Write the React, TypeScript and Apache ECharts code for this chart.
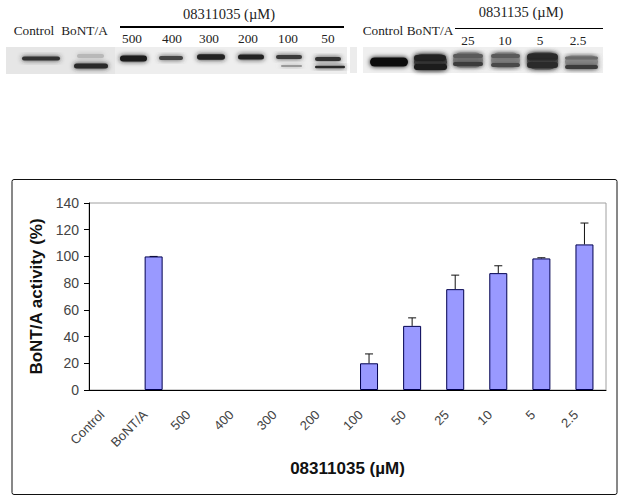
import React, { useEffect, useRef } from "react";
import * as echarts from "echarts";

const categories = ["Control", "BoNT/A", "500", "400", "300", "200", "100", "50", "25", "10", "5", "2.5"];
const activity = [0, 100, 0, 0, 0, 0, 20, 48, 75.5, 87.5, 98.5, 109];
const upperError = [null, 100, null, null, null, null, 27, 54, 86, 93, 99, 125];
const yTicks = { min: 0, max: 140, step: 20 };
const yTitle = "BoNT/A activity (%)";
const xTitle = "08311035 (µM)";

// Decorative blot photograph, layout only: [left, right, centreY, thickness, colour]
const leftBlotBands: [number, number, number, number, string][] = [
  [22, 60, 58.5, 4, "#333"],
  [77, 104, 56, 4, "#b8b8b8"],
  [74, 108, 66, 5, "#2a2a2a"],
  [120, 147, 58.5, 6, "#1a1a1a"],
  [159, 183, 58, 4, "#444"],
  [197, 225, 57, 5.5, "#222"],
  [238, 264, 57, 5, "#222"],
  [276, 302, 57, 4, "#3a3a3a"],
  [281, 302, 66, 2, "#999"],
  [315, 341, 59, 4, "#333"],
  [315, 345, 67, 2.5, "#2a2a2a"],
];
const rightBlotSmears: [number, number, number, number, string][] = [
  [414, 447, 62, 16, "#444"],
  [453, 483, 60, 15, "#808080"],
  [491, 520, 60, 15, "#8c8c8c"],
  [527, 558, 61, 17, "#555"],
  [565, 598, 62, 13, "#909090"],
];
const rightBlotBands: [number, number, number, number, string][] = [
  [370, 408, 62, 9, "#111"],
  [414, 446, 58, 6, "#222"],
  [414, 447, 67, 6, "#1a1a1a"],
  [453, 483, 56, 4, "#5a5a5a"],
  [453, 483, 64, 4, "#3a3a3a"],
  [491, 520, 56, 4, "#5a5a5a"],
  [491, 520, 65, 4, "#4a4a4a"],
  [527, 558, 57, 7, "#2a2a2a"],
  [527, 558, 65, 6, "#2a2a2a"],
  [565, 598, 58, 3, "#6a6a6a"],
  [565, 598, 67, 4, "#3a3a3a"],
];
// Western blot captions: [text, x, y, font size]
const blotLabels: [string, number, number, number][] = [
  ["Control", 34, 30.5, 13.3],
  ["BoNT/A", 84.5, 30.5, 13.3],
  ["08311035 (µM)", 229, 14, 14.5],
  ["500", 132, 38.5, 13.3],
  ["400", 172, 38.5, 13.3],
  ["300", 209, 38.5, 13.3],
  ["200", 248, 38.5, 13.3],
  ["100", 288, 38.5, 13.3],
  ["50", 328, 38.5, 13.3],
  ["Control", 383, 30, 13.3],
  ["BoNT/A", 430, 30, 13.3],
  ["0831135 (µM)", 521, 12, 14.5],
  ["25", 468, 40, 13.3],
  ["10", 505, 40, 13.3],
  ["5", 540, 40, 13.3],
  ["2.5", 578, 40, 13.3],
];

const bandShape = (b: [number, number, number, number, string]) => ({
  type: "rect",
  silent: true,
  shape: { x: b[0], y: b[2] - b[3] / 2, width: b[1] - b[0], height: b[3], r: b[3] / 2 },
  style: { fill: b[4], shadowBlur: 5, shadowColor: b[4] },
});

export default function App() {
  const ref = useRef<HTMLDivElement>(null);
  useEffect(() => {
    document.body.style.margin = "0";
    const chart = echarts.init(ref.current!, null, { renderer: "svg" });
    chart.setOption({
      animation: false,
      backgroundColor: "#fff",
      textStyle: { fontFamily: "Liberation Sans" },
      grid: { left: 89, right: 18, top: 203, bottom: 112, show: true, borderColor: "#a0a0a0", borderWidth: 1 },
      xAxis: {
        type: "category",
        data: categories,
        name: xTitle,
        nameLocation: "middle",
        nameGap: 70,
        nameTextStyle: { fontFamily: "Liberation Sans", fontSize: 17, fontWeight: "bold", color: "#111" },
        axisLine: { lineStyle: { color: "#000", width: 1 } },
        axisTick: { alignWithLabel: false, length: 5, lineStyle: { color: "#000" } },
        axisLabel: { interval: 0, rotate: 45, margin: 14, padding: [0, 12, 0, 0], fontSize: 13, color: "#444", fontFamily: "Liberation Sans" },
        splitLine: { show: false },
      },
      yAxis: {
        type: "value",
        min: yTicks.min,
        max: yTicks.max,
        interval: yTicks.step,
        name: yTitle,
        nameLocation: "middle",
        nameGap: 43,
        nameTextStyle: { fontFamily: "Liberation Sans", fontSize: 17, fontWeight: "bold", color: "#111" },
        axisLine: { show: true, lineStyle: { color: "#000", width: 1 } },
        axisTick: { show: true, length: 5, lineStyle: { color: "#000" } },
        axisLabel: { fontSize: 14, color: "#444", margin: 10, fontFamily: "Liberation Sans" },
        splitLine: { show: false },
      },
      series: [
        {
          type: "bar",
          data: activity.map((v) => (v === 0 ? null : v)),
          barWidth: 18,
          itemStyle: { color: "#9999ff", borderColor: "#000050", borderWidth: 1 },
        },
        {
          type: "custom",
          data: upperError.map((v, i) => [i, activity[i], v]),
          encode: { x: 0, y: 2 },
          z: 1,
          renderItem: (_p: any, api: any) => {
            const top = api.value(2);
            if (top === null || top === undefined || Number.isNaN(top)) return null;
            const a = api.coord([api.value(0), api.value(1)]);
            const b = api.coord([api.value(0), top]);
            const style = { stroke: "#111", lineWidth: 1, fill: "none" };
            return {
              type: "group",
              children: [
                { type: "line", shape: { x1: a[0], y1: a[1], x2: a[0], y2: b[1] }, style },
                { type: "line", shape: { x1: a[0] - 4, y1: b[1], x2: a[0] + 4, y2: b[1] }, style },
              ],
            };
          },
        },
      ],
      graphic: [
        { type: "rect", silent: true, shape: { x: 12, y: 179.5, width: 605, height: 315, r: 2 }, style: { fill: "none", stroke: "#111", lineWidth: 1 }, z: -1 },
        { type: "rect", silent: true, shape: { x: 6, y: 47, width: 109, height: 27 }, style: { fill: "#e6e6e6" } },
        { type: "rect", silent: true, shape: { x: 115, y: 47, width: 232, height: 27 }, style: { fill: "#eeeeee" } },
        { type: "rect", silent: true, shape: { x: 350, y: 47, width: 7, height: 26 }, style: { fill: "#ececec" } },
        { type: "rect", silent: true, shape: { x: 363, y: 47, width: 240, height: 26 }, style: { fill: "#efefef" } },
        ...leftBlotBands.map(bandShape),
        ...rightBlotSmears.map(bandShape),
        ...rightBlotBands.map(bandShape),
        { type: "line", silent: true, shape: { x1: 120, y1: 27, x2: 344, y2: 27 }, style: { stroke: "#000", lineWidth: 2 } },
        { type: "line", silent: true, shape: { x1: 455, y1: 28.5, x2: 603, y2: 28.5 }, style: { stroke: "#000", lineWidth: 1 } },
        ...blotLabels.map(([text, x, y, size]) => ({
          type: "text",
          silent: true,
          x,
          y,
          style: { text, fill: "#222", font: `${size}px 'Liberation Serif'`, textAlign: "center", textVerticalAlign: "middle" },
        })),
      ],
    });
    return () => chart.dispose();
  }, []);
  return <div ref={ref} style={{ width: 624, height: 502 }} />;
}
